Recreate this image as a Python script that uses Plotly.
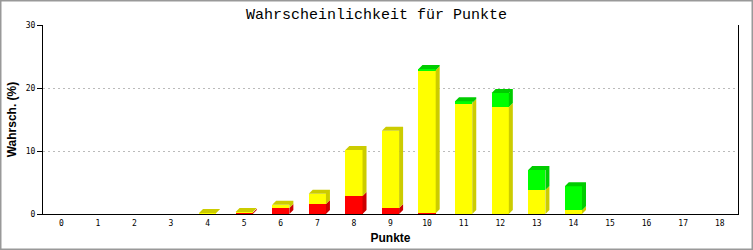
import plotly.graph_objects as go

# ---- data ----
categories = list(range(19))
tick_labels = [str(c) for c in categories]
red_vals = [0, 0, 0, 0, 0, 0.2, 0.95, 1.6, 2.85, 0.95, 0.1, 0, 0, 0, 0, 0, 0, 0, 0]
yellow_vals = [0, 0, 0, 0, 0.15, 0.1, 0.5, 1.6, 7.3, 12.25, 22.7, 17.6, 17.0, 3.8, 0.6, 0, 0, 0, 0]
green_vals = [0, 0, 0, 0, 0, 0, 0, 0, 0, 0, 0.2, 0.3, 2.2, 3.2, 3.8, 0, 0, 0, 0]
y_ticks = [0, 10, 20, 30]

title_text = "Wahrscheinlichkeit für Punkte"
x_title = "Punkte"
y_title = "Wahrsch. (%)"

# ---- style / geometry ----
W, H = 753, 250
ML, MR, MT, MB = 43, 15, 25, 36
pw, ph = W - ML - MR, H - MT - MB
xmin, xmax = -0.5, 18.5
ymin, ymax = 0, 30
dx = 4 * (xmax - xmin) / pw
dy = 4 * (ymax - ymin) / ph
bw = 0.47

series = [
    ("red", red_vals, "#FF0000", "#CC0000"),
    ("yellow", yellow_vals, "#FFFF00", "#CCCC00"),
    ("green", green_vals, "#00FF00", "#00CC00"),
]

fig = go.Figure()

# front faces
for name, vals, front, side in series:
    fig.add_trace(go.Bar(x=categories, y=vals, width=bw, marker=dict(color=front, line=dict(width=0)),
                         name=name, hoverinfo="skip", showlegend=False))

# side faces and top faces
side_polys = {name: ([], []) for name, *_ in series}
base = [0.0] * len(categories)
top_series = [None] * len(categories)
for name, vals, front, side in series:
    for i, c in enumerate(categories):
        v = vals[i]
        if v <= 0:
            continue
        y0 = base[i]
        y1 = y0 + v
        xr = c + bw / 2
        xs, ys = side_polys[name]
        xs += [xr, xr + dx, xr + dx, xr, xr, None]
        ys += [y0, y0 + dy, y1 + dy, y1, y0, None]
        base[i] = y1
        top_series[i] = name

for i, c in enumerate(categories):
    name = top_series[i]
    if name is None:
        continue
    xl, xr = c - bw / 2, c + bw / 2
    yt = base[i]
    xs, ys = side_polys[name]
    xs += [xl, xl + dx, xr + dx, xr, xl, None]
    ys += [yt, yt + dy, yt + dy, yt, yt, None]

for name, vals, front, side in series:
    xs, ys = side_polys[name]
    if not xs:
        continue
    fig.add_trace(go.Scatter(x=xs, y=ys, mode="lines", fill="toself", fillcolor=side,
                             line=dict(width=0, color=side), hoverinfo="skip", showlegend=False))

fig.update_layout(
    width=W, height=H,
    margin=dict(l=ML, r=MR, t=MT, b=MB, pad=0, autoexpand=False),
    paper_bgcolor="white", plot_bgcolor="white",
    barmode="stack", bargap=0,
    showlegend=False,
    title=dict(text=title_text, x=0.5, xanchor="center", y=1 - 14 / H, yanchor="middle", yref="container",
               font=dict(family="Liberation Mono", size=15, color="black")),
    xaxis=dict(range=[xmin, xmax], tickvals=categories, ticktext=tick_labels, ticks="",
               automargin=False, ticklabelstandoff=1,
               showgrid=False, zeroline=False, showline=True, linecolor="black", linewidth=1,
               tickfont=dict(family="DejaVu Sans Mono", size=8, color="black"),
               title=dict(text=x_title, standoff=7, font=dict(family="Liberation Sans", size=12, color="black", weight="bold"))),
    yaxis=dict(range=[ymin, ymax], tickvals=y_ticks, ticks="outside", ticklen=5, tickcolor="black",
               automargin=False,
               showgrid=True, gridcolor="#BBBBBB", griddash="2px,3px", gridwidth=1,
               zeroline=False, showline=True, linecolor="black", linewidth=1, mirror=True,
               tickfont=dict(family="DejaVu Sans Mono", size=8, color="black"),
               title=dict(text=y_title, standoff=6, font=dict(family="Liberation Sans", size=12, color="black", weight="bold"))),
    shapes=[dict(type="rect", xref="paper", yref="paper",
                 x0=-ML / pw, x1=1 + MR / pw, y0=-MB / ph, y1=1 + MT / ph,
                 line=dict(color="#999999", width=3), layer="above")],
)

fig.write_html("out.html")
